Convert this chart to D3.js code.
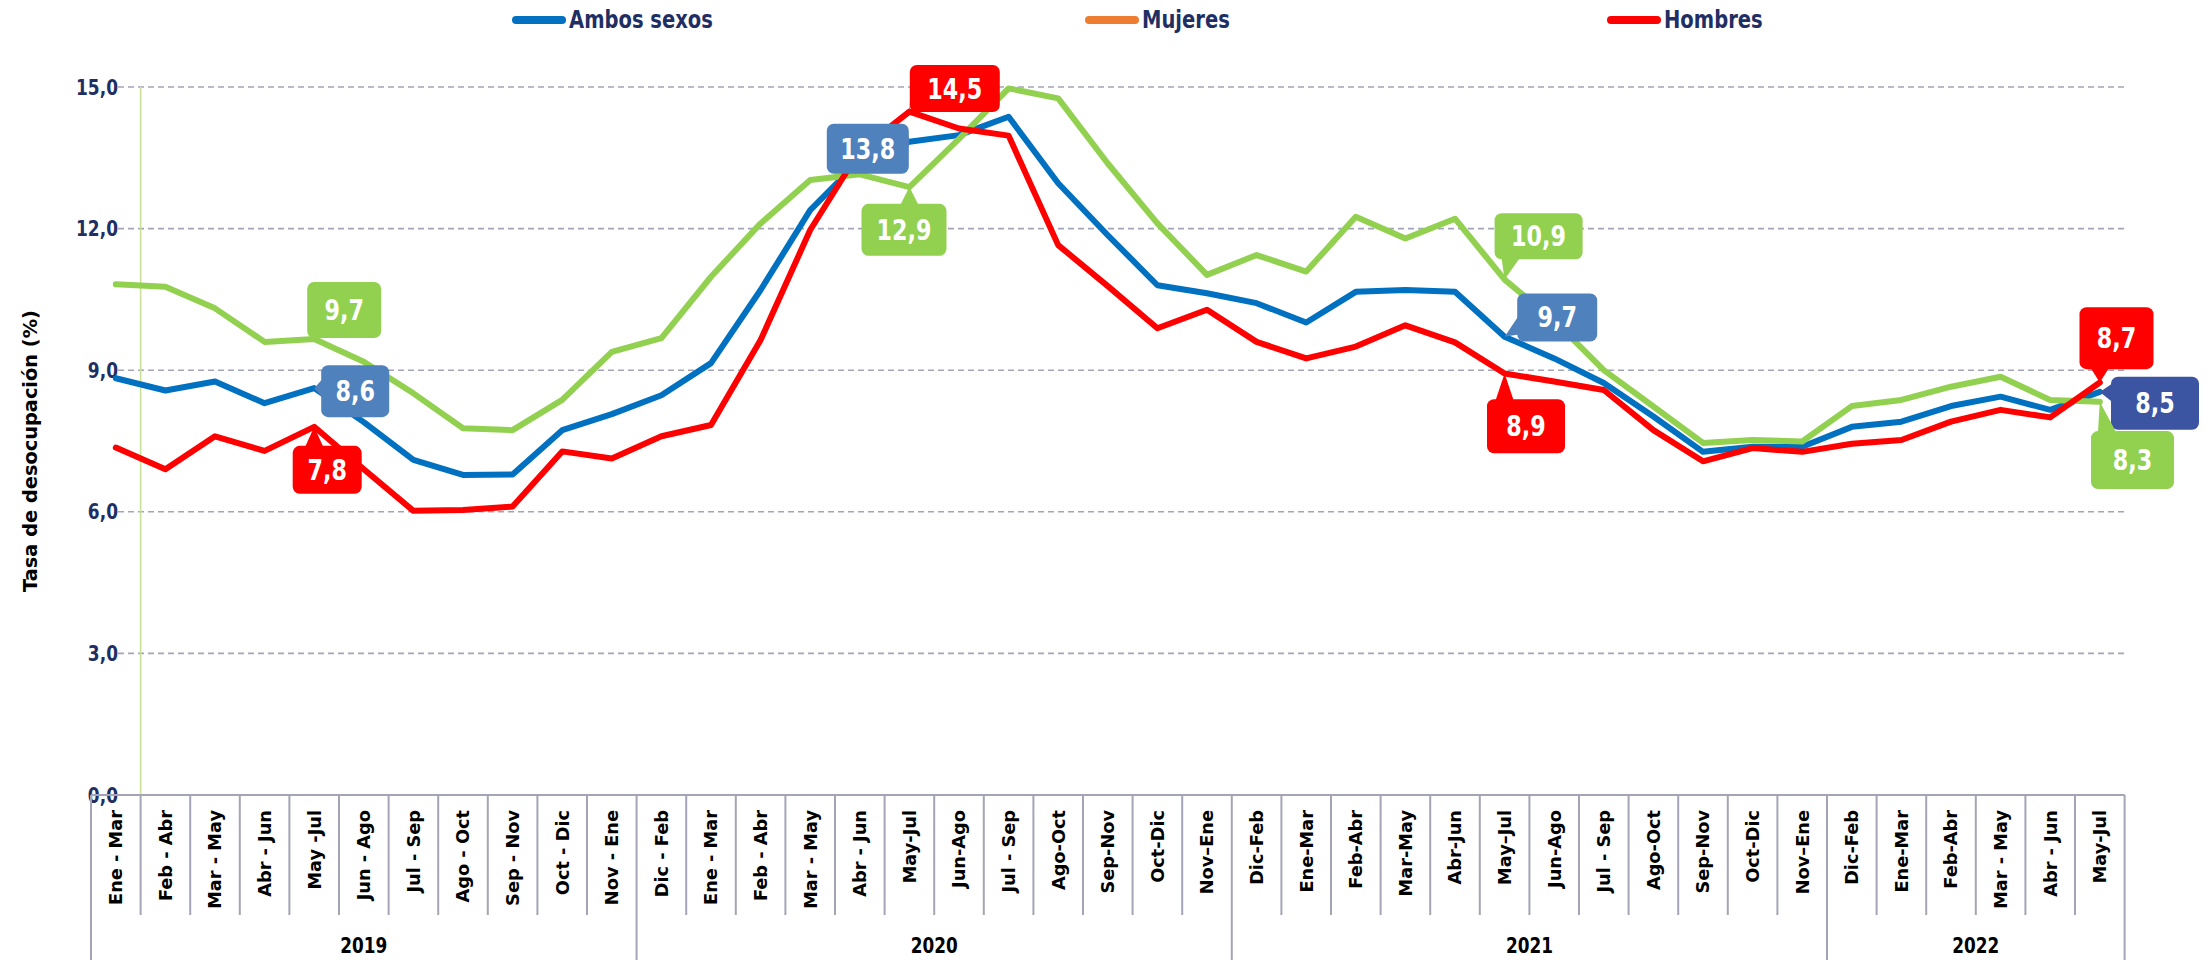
<!DOCTYPE html>
<html>
<head>
<meta charset="utf-8">
<script src="https://cdn.jsdelivr.net/npm/d3@7"></script>
<style>
  body { margin: 0; background: #fff; }
  svg text { font-family: "DejaVu Sans", sans-serif; font-weight: bold; }
  svg text.cond { font-family: "DejaVu Sans Condensed", "DejaVu Sans", sans-serif; font-stretch: condensed; }
</style>
</head>
<body>
<svg id="chart"></svg>
<script>
const width = 2209, height = 960;

// Categories (rolling quarters) grouped by year
const years = ["2019", "2020", "2021", "2022"];
const periodsPerYear = [11, 12, 12, 6];
const periods = [
  "Ene - Mar", "Feb - Abr", "Mar - May", "Abr - Jun", "May -Jul", "Jun - Ago", "Jul - Sep", "Ago - Oct", "Sep - Nov", "Oct - Dic", "Nov - Ene",
  "Dic - Feb", "Ene - Mar", "Feb - Abr", "Mar - May", "Abr - Jun", "May-Jul", "Jun-Ago", "Jul - Sep", "Ago-Oct", "Sep-Nov", "Oct-Dic", "Nov\u2013Ene",
  "Dic-Feb", "Ene-Mar", "Feb-Abr", "Mar-May", "Abr-Jun", "May\u2013Jul", "Jun-Ago", "Jul - Sep", "Ago-Oct", "Sep-Nov", "Oct-Dic", "Nov\u2013Ene",
  "Dic-Feb", "Ene-Mar", "Feb-Abr", "Mar - May", "Abr - Jun", "May-Jul"
];

// Tasa de desocupación (%)
const ambos = [
  8.83, 8.57, 8.76, 8.30, 8.62, 7.90, 7.10, 6.78, 6.79, 7.73, 8.07,
  8.47, 9.15, 10.70, 12.39, 13.45, 13.84, 13.98, 14.37, 12.96, 11.86, 10.80,
  10.63, 10.42, 10.01, 10.66, 10.70, 10.66, 9.71, 9.25, 8.73, 8.02, 7.27,
  7.38, 7.38, 7.80, 7.91, 8.24, 8.44, 8.16, 8.54
];
const mujeres = [
  10.82, 10.77, 10.31, 9.60, 9.66, 9.18, 8.51, 7.77, 7.73, 8.37, 9.39,
  9.68, 10.98, 12.11, 13.03, 13.15, 12.88, 13.90, 14.97, 14.76, 13.38, 12.11,
  11.02, 11.44, 11.09, 12.25, 11.79, 12.21, 10.92, 10.05, 9.00, 8.23, 7.46,
  7.52, 7.49, 8.24, 8.37, 8.65, 8.86, 8.37, 8.33
];
const hombres = [
  7.36, 6.90, 7.60, 7.29, 7.80, 6.90, 6.02, 6.04, 6.11, 7.28, 7.13,
  7.60, 7.84, 9.64, 11.97, 13.65, 14.48, 14.12, 13.97, 11.65, 10.78, 9.89,
  10.28, 9.60, 9.25, 9.50, 9.95, 9.59, 8.93, 8.76, 8.58, 7.73, 7.07,
  7.35, 7.27, 7.44, 7.52, 7.91, 8.16, 8.00, 8.74
];
const yTicks = [0, 3, 6, 9, 12, 15];
const labelIdx = [4, 16, 28, 40];   // May-Jul of each year

const series = [
  { name: "Ambos sexos", values: ambos, color: "#0070C0", legend: "#0070C0", box: "#4F81BD" },
  { name: "Mujeres", values: mujeres, color: "#92D050", legend: "#ED7D31", box: "#92D050" },
  { name: "Hombres", values: hombres, color: "#FF0000", legend: "#FF0000", box: "#FF0000" }
];

// callout boxes: offset of box centre from the point, and box size
const callouts = {
  "Ambos sexos": [[41, 3, 68, 52], [-41.6, 7, 82, 50], [52.6, -19.2, 80, 48], [55.2, 11.4, 88, 53, "#3B55A3"]],
  "Mujeres": [[30, -29, 74, 56], [-5.4, 42.8, 85, 52], [34, -43.3, 88, 46], [32.7, 58.3, 83, 58]],
  "Hombres": [[13, 43, 69, 48], [45.4, -23, 90, 47], [21.4, 52.8, 78, 54], [16.7, -44.3, 74, 62]]
};

const navy = "#1F2F64";
const gridColor = "#A4A4B8";
const stretch = 1.12;   // texts in the original look a bit taller than wide

let svg = d3.select("#chart")
  .attr("width", width)
  .attr("height", height)
  .attr("viewBox", "0 0 " + width + " " + height);

// pick a font size so that a sample string has the wanted width
function fitSize(cls, sample, target) {
  let t = svg.append("text").attr("class", cls).attr("font-size", 20).text(sample);
  let w = t.node().getComputedTextLength();
  t.remove();
  return 20 * target / w;
}
const tickSize = fitSize("cond", "15,0", 42);
const catSize = fitSize("", "Ene - Mar", 95);
const yearSize = fitSize("cond", "2019", 47);
const titleSize = fitSize("", "Tasa de desocupación (%)", 282);
const boxSize = fitSize("cond", "14,5", 55);
const legendSize = fitSize("cond", "Ambos sexos", 144);

let x = d3.scaleBand()
  .domain(d3.range(periods.length))
  .range([91, 2124.6])
  .padding(0);

let y = d3.scaleLinear()
  .domain([0, 15])
  .range([795, 87]);

const cx = i => x(i) + x.bandwidth() / 2;
const fmt = v => d3.format(".1f")(v).replace(".", ",");
const at = (px, py) => "translate(" + px + "," + py + ") scale(1," + stretch + ")";

// Gridlines (dashed) + y tick labels
svg.append("g")
  .selectAll("line")
  .data(yTicks.filter(d => d > 0))
  .enter()
  .append("line")
  .attr("x1", 118)
  .attr("x2", 2127)
  .attr("y1", d => y(d))
  .attr("y2", d => y(d))
  .attr("stroke", gridColor)
  .attr("stroke-width", 1.6)
  .attr("stroke-dasharray", "6,4");

svg.append("g")
  .selectAll("text")
  .data(yTicks)
  .enter()
  .append("text")
  .attr("class", "cond")
  .attr("transform", d => at(118, y(d)))
  .attr("dy", "0.36em")
  .attr("text-anchor", "end")
  .attr("font-size", tickSize)
  .attr("fill", navy)
  .text(d => fmt(d));

// Vertical axis line
svg.append("line")
  .attr("x1", x(1)).attr("x2", x(1))
  .attr("y1", y(15)).attr("y2", y(0))
  .attr("stroke", "#C9E196")
  .attr("stroke-width", 1.6);

// Category axis
let axisG = svg.append("g");
axisG.append("line")
  .attr("x1", x(0)).attr("x2", x.range()[1])
  .attr("y1", y(0)).attr("y2", y(0))
  .attr("stroke", "#A4A4B6")
  .attr("stroke-width", 2);

// year starts
let yearStart = [0];
periodsPerYear.forEach((n, k) => yearStart.push(yearStart[k] + n));

let bounds = d3.range(periods.length + 1);
axisG.selectAll(".sep")
  .data(bounds)
  .enter()
  .append("line")
  .attr("class", "sep")
  .attr("x1", d => d < periods.length ? x(d) : x.range()[1])
  .attr("x2", d => d < periods.length ? x(d) : x.range()[1])
  .attr("y1", y(0))
  .attr("y2", d => yearStart.includes(d) ? 960 : 915)
  .attr("stroke", "#A4A4B6")
  .attr("stroke-width", 2);

axisG.selectAll(".cat")
  .data(periods)
  .enter()
  .append("text")
  .attr("class", "cat")
  .attr("transform", (d, i) => "translate(" + cx(i) + ",810) rotate(-90)")
  .attr("dy", "0.36em")
  .attr("text-anchor", "end")
  .attr("font-size", catSize)
  .attr("fill", "#000")
  .text(d => d);

axisG.selectAll(".year")
  .data(years)
  .enter()
  .append("text")
  .attr("class", "year cond")
  .attr("transform", (d, k) => at((x(yearStart[k]) + (k < years.length - 1 ? x(yearStart[k + 1]) : x.range()[1])) / 2, 953))
  .attr("text-anchor", "middle")
  .attr("font-size", yearSize)
  .attr("fill", "#000")
  .text(d => d);

// Y axis title
svg.append("text")
  .attr("transform", "translate(30,451) rotate(-90)")
  .attr("dy", "0.36em")
  .attr("text-anchor", "middle")
  .attr("font-size", titleSize)
  .attr("fill", "#000")
  .text("Tasa de desocupación (%)");

// Lines
let line = d3.line()
  .x((d, i) => cx(i))
  .y(d => y(d));

svg.append("g")
  .selectAll("path")
  .data(series)
  .enter()
  .append("path")
  .attr("fill", "none")
  .attr("stroke", d => d.color)
  .attr("stroke-width", 6)
  .attr("stroke-linejoin", "round")
  .attr("stroke-linecap", "round")
  .attr("d", d => line(d.values));

// Callout data labels
function tail(px, py, x0, y0, w, h, r) {
  const x1 = x0 + w, y1 = y0 + h, half = 9;
  const clamp = (v, a, b) => Math.max(a, Math.min(b, v));
  if (py > y1) {
    const b = clamp(px, x0 + r + half, x1 - r - half);
    return [[b - half, y1 - 1], [b + half, y1 - 1], [px, py]];
  } else if (py < y0) {
    const b = clamp(px, x0 + r + half, x1 - r - half);
    return [[b - half, y0 + 1], [b + half, y0 + 1], [px, py]];
  } else if (px < x0) {
    const b = clamp(py, y0 + r + half, y1 - r - half);
    return [[x0 + 1, b - half], [x0 + 1, b + half], [px, py]];
  }
  const b = clamp(py, y0 + r + half, y1 - r - half);
  return [[x1 - 1, b - half], [x1 - 1, b + half], [px, py]];
}

let labelData = [];
series.forEach(s => {
  labelIdx.forEach((idx, k) => {
    const c = callouts[s.name][k];
    const px = cx(idx), py = y(s.values[idx]);
    labelData.push({
      px: px, py: py,
      x0: px + c[0] - c[2] / 2, y0: py + c[1] - c[3] / 2,
      w: c[2], h: c[3],
      fill: c[4] || s.box,
      text: fmt(s.values[idx])
    });
  });
});

let lab = svg.append("g")
  .selectAll("g")
  .data(labelData)
  .enter()
  .append("g");

lab.append("polygon")
  .attr("points", d => tail(d.px, d.py, d.x0, d.y0, d.w, d.h, 7).map(p => p.join(",")).join(" "))
  .attr("fill", d => d.fill);

lab.append("rect")
  .attr("x", d => d.x0)
  .attr("y", d => d.y0)
  .attr("width", d => d.w)
  .attr("height", d => d.h)
  .attr("rx", 7)
  .attr("fill", d => d.fill);

lab.append("text")
  .attr("class", "cond")
  .attr("transform", d => at(d.x0 + d.w / 2, d.y0 + d.h / 2))
  .attr("dy", "0.36em")
  .attr("text-anchor", "middle")
  .attr("font-size", boxSize)
  .attr("fill", "#fff")
  .text(d => d.text);

// Legend
let legendX = [512, 1085, 1607];
let leg = svg.append("g")
  .selectAll("g")
  .data(series)
  .enter()
  .append("g")
  .attr("transform", (d, i) => "translate(" + legendX[i] + ",20)");

leg.append("line")
  .attr("x1", 4).attr("x2", 50)
  .attr("stroke", d => d.legend)
  .attr("stroke-width", 8)
  .attr("stroke-linecap", "round");

leg.append("text")
  .attr("class", "cond")
  .attr("transform", at(57, 8))
  .attr("font-size", legendSize)
  .attr("fill", navy)
  .text(d => d.name);
</script>
</body>
</html>
